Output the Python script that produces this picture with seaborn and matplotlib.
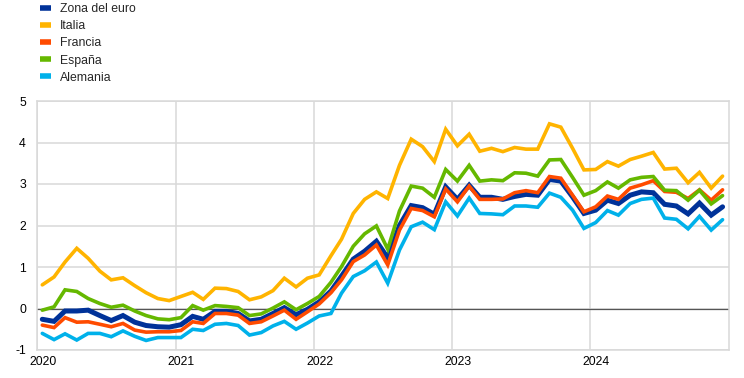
import pandas as pd
import numpy as np
import matplotlib
matplotlib.use("Agg")
import matplotlib.pyplot as plt
import matplotlib.dates as mdates
import seaborn as sns

# monthly values, Jan 2020 - Dec 2024
months = pd.date_range("2020-01-01", periods=60, freq="MS") + pd.Timedelta(days=14)

zona_euro = [-0.26, -0.31, -0.06, -0.06, -0.04, -0.17, -0.29, -0.17, -0.33, -0.41,
             -0.44, -0.45, -0.39, -0.19, -0.26, -0.07, -0.07, -0.12, -0.30, -0.26,
             -0.12, 0.02, -0.15, -0.02, 0.16, 0.42, 0.78, 1.19, 1.38, 1.62,
             1.22, 2.00, 2.48, 2.43, 2.27, 2.93, 2.63, 2.97, 2.68, 2.68,
             2.63, 2.70, 2.75, 2.73, 3.11, 3.07, 2.69, 2.29, 2.37, 2.61,
             2.53, 2.73, 2.81, 2.79, 2.51, 2.47, 2.28, 2.54, 2.25, 2.45]
italia = [0.57, 0.76, 1.12, 1.45, 1.21, 0.90, 0.69, 0.74, 0.55, 0.38,
          0.24, 0.19, 0.29, 0.39, 0.22, 0.49, 0.48, 0.41, 0.21, 0.28,
          0.43, 0.73, 0.52, 0.73, 0.81, 1.27, 1.67, 2.29, 2.63, 2.81,
          2.65, 3.45, 4.08, 3.90, 3.54, 4.32, 3.92, 4.20, 3.79, 3.86,
          3.78, 3.88, 3.84, 3.84, 4.45, 4.37, 3.86, 3.34, 3.35, 3.54,
          3.43, 3.59, 3.67, 3.76, 3.36, 3.38, 3.03, 3.28, 2.90, 3.19]
francia = [-0.40, -0.46, -0.22, -0.33, -0.32, -0.38, -0.44, -0.36, -0.52, -0.57,
           -0.56, -0.56, -0.53, -0.32, -0.36, -0.12, -0.12, -0.16, -0.36, -0.32,
           -0.18, -0.04, -0.26, -0.08, 0.11, 0.38, 0.69, 1.13, 1.29, 1.53,
           1.05, 1.89, 2.41, 2.36, 2.21, 2.88, 2.57, 2.95, 2.63, 2.63,
           2.64, 2.79, 2.84, 2.79, 3.18, 3.14, 2.73, 2.33, 2.45, 2.71,
           2.63, 2.90, 2.98, 3.08, 2.82, 2.80, 2.65, 2.86, 2.61, 2.86]
espana = [-0.04, 0.04, 0.45, 0.41, 0.24, 0.12, 0.03, 0.08, -0.06, -0.17,
          -0.25, -0.27, -0.22, 0.07, -0.04, 0.07, 0.05, 0.02, -0.17, -0.13,
          0.01, 0.16, -0.03, 0.12, 0.29, 0.63, 1.01, 1.50, 1.80, 1.99,
          1.43, 2.35, 2.95, 2.90, 2.68, 3.35, 3.07, 3.45, 3.07, 3.10,
          3.08, 3.27, 3.26, 3.19, 3.58, 3.59, 3.16, 2.73, 2.84, 3.05,
          2.90, 3.10, 3.16, 3.18, 2.85, 2.84, 2.61, 2.85, 2.52, 2.72]
alemania = [-0.60, -0.75, -0.61, -0.76, -0.60, -0.60, -0.68, -0.54, -0.67, -0.77,
            -0.70, -0.70, -0.70, -0.50, -0.53, -0.38, -0.36, -0.41, -0.64, -0.58,
            -0.42, -0.31, -0.50, -0.35, -0.18, -0.12, 0.37, 0.77, 0.91, 1.12,
            0.61, 1.41, 1.97, 2.08, 1.90, 2.57, 2.23, 2.66, 2.29, 2.28,
            2.26, 2.47, 2.47, 2.44, 2.78, 2.68, 2.37, 1.93, 2.07, 2.36,
            2.25, 2.53, 2.63, 2.66, 2.18, 2.15, 1.92, 2.22, 1.89, 2.14]

series = {
    "Zona del euro": zona_euro,
    "Italia": italia,
    "Francia": francia,
    "España": espana,
    "Alemania": alemania,
}
colors = ["#003299", "#FFB400", "#FF4B00", "#65B800", "#00B1EA"]
widths = [3.6, 2.6, 2.6, 2.6, 2.6]

years = [2020, 2021, 2022, 2023, 2024]
yticks = [-1, 0, 1, 2, 3, 4, 5]

sns.set_style("white")
plt.rcParams["font.family"] = ["Liberation Sans", "DejaVu Sans"]

fig = plt.figure(figsize=(7.44, 3.78), dpi=100)
ax = fig.add_axes([37 / 744, 1 - 350 / 378, 692 / 744, 249 / 378])

for (name, vals), c, lw in zip(series.items(), colors, widths):
    sns.lineplot(x=months, y=vals, color=c, linewidth=lw, label=name, ax=ax,
                 legend=False, solid_joinstyle="miter")

ax.set_xlim(pd.Timestamp("2020-01-01"), pd.Timestamp("2025-01-01"))
ax.set_ylim(-1, 5)
ax.set_yticks(yticks)
ax.set_yticklabels([str(v) for v in yticks])

# gridlines on year boundaries, labels mid-January
ax.set_xticks([pd.Timestamp(f"{y}-01-01") for y in years])
ax.set_xticklabels([])
ax.set_xticks([pd.Timestamp(f"{y}-01-16") for y in years], minor=True)
ax.set_xticklabels([str(y) for y in years], minor=True)

ax.grid(True, which="major", color="#d9d9d9", linewidth=1.1)
ax.set_axisbelow(True)
ax.axhline(0, color="#555555", linewidth=0.9, zorder=1.5)
ax.tick_params(axis="both", which="both", length=0, labelsize=8.8, colors="black")
ax.tick_params(axis="y", pad=8)
ax.tick_params(axis="x", which="minor", pad=4)
for s in ax.spines.values():
    s.set_color("#d9d9d9")
    s.set_linewidth(1.1)
ax.set_xlabel("")
ax.set_ylabel("")

handles, labels = ax.get_legend_handles_labels()
fig.legend(handles, labels, loc="upper left", bbox_to_anchor=(35 / 744, 1.0045),
           frameon=False, fontsize=8.8, handlelength=0.9, handletextpad=0.75,
           labelspacing=0.42, borderaxespad=0)
for h in fig.legends[0].get_lines():
    h.set_linewidth(4)
    h.set_solid_capstyle("butt")

fig.savefig("out.png", dpi=100)
